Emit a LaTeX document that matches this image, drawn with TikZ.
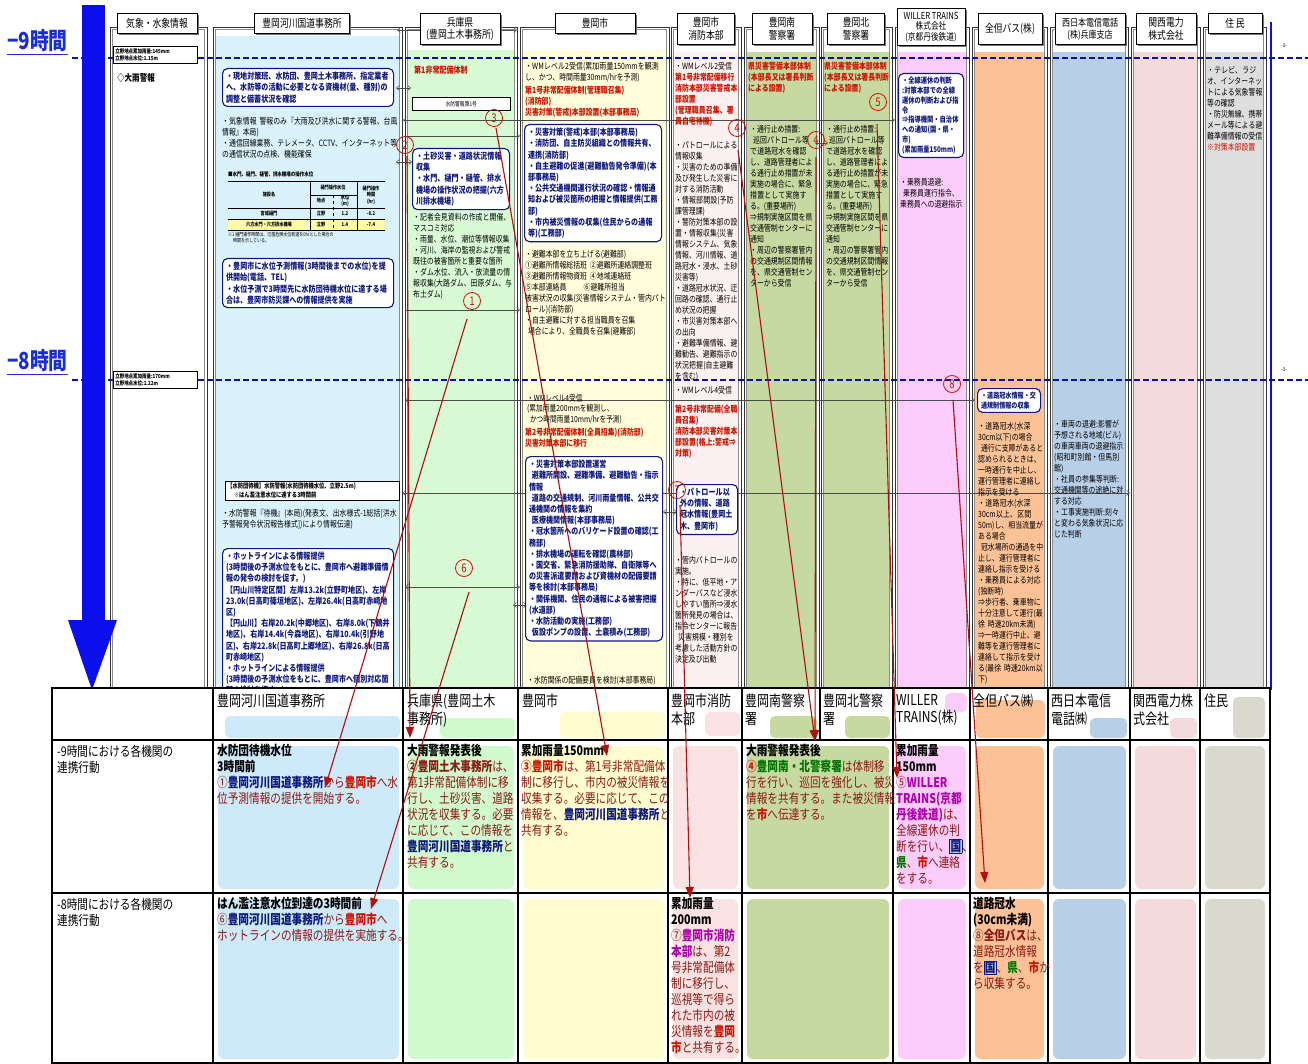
\documentclass[tikz,border=0pt]{standalone}
\usepackage{fontspec}
\setmainfont{Noto Sans CJK JP}[FakeStretch=0.8]
\XeTeXlinebreaklocale "ja"
\XeTeXlinebreakskip=0pt plus 0.4pt
\usetikzlibrary{arrows.meta,shadows}
\definecolor{tblue}{RGB}{15,25,125}
\definecolor{tred}{RGB}{140,25,20}
\definecolor{bred}{RGB}{205,20,0}
\definecolor{tmag}{RGB}{175,0,175}
\definecolor{tgreen}{RGB}{0,115,0}
\definecolor{arw}{RGB}{175,15,15}
\definecolor{bigblue}{RGB}{10,15,235}
\definecolor{labblue}{RGB}{25,45,215}
\definecolor{cblue}{RGB}{205,233,250}
\definecolor{cgreen}{RGB}{208,250,205}
\definecolor{cyellow}{RGB}{255,252,208}
\definecolor{cpink}{RGB}{250,226,226}
\definecolor{colive}{RGB}{198,217,160}
\definecolor{cmag}{RGB}{252,204,252}
\definecolor{corange}{RGB}{252,194,150}
\definecolor{csteel}{RGB}{184,207,232}
\definecolor{crose}{RGB}{244,218,218}
\definecolor{cgrey}{RGB}{217,217,206}
\definecolor{ublue}{RGB}{218,242,252}
\definecolor{ugreen}{RGB}{216,250,212}
\definecolor{uyellow}{RGB}{255,253,218}
\definecolor{upink}{RGB}{253,240,240}
\definecolor{ugrey}{RGB}{222,222,222}
\newcommand\jB[1]{\textcolor{tblue}{\textbf{#1}}}
\newcommand\jR[1]{\textcolor{bred}{\textbf{#1}}}
\newcommand\jG[1]{\textcolor{tgreen}{\textbf{#1}}}
\newcommand\jM[1]{\textcolor{tmag}{\textbf{#1}}}
\newcommand\jK[1]{\textcolor{black}{\textbf{#1}}}
\newcommand\jKuni{{\setlength{\fboxsep}{0.5pt}\setlength{\fboxrule}{0.6pt}\fcolorbox{tblue}{csteel}{\textcolor{tblue}{\textbf{国}}}}}
\begin{document}
\begin{tikzpicture}[x=1pt,y=-1pt,
  hdrbox/.style={draw=black,line width=0.7pt,fill=white,align=center,inner sep=2pt,font=\fontsize{11}{12.5}\selectfont,drop shadow={shadow xshift=1.6pt,shadow yshift=-1.6pt,fill=black!55,opacity=1}},
  up/.style={anchor=north west,align=left,inner sep=0pt,text width=#1,font=\fontsize{8.6}{11}\selectfont},
  upr/.style={anchor=north west,align=left,inner sep=0pt,text width=#1,font=\fontsize{8.6}{11}\selectfont\bfseries,text=bred},
  bbox/.style={draw=tblue,line width=1.1pt,rounded corners=5pt,fill=white,anchor=north west,align=left,inner sep=3.5pt,text width=#1,font=\fontsize{8.8}{11.2}\selectfont\bfseries,text=tblue},
  kbox/.style={draw=black,line width=0.6pt,fill=white,anchor=north west,align=left,inner sep=2pt,text width=#1,font=\fontsize{5.6}{7.4}\selectfont\bfseries},
  circ/.style={circle,draw=bred,text=bred,line width=0.8pt,inner sep=0pt,minimum size=17pt,font=\fontsize{12}{12}\selectfont},
  redarr/.style={draw=arw,line width=1.1pt,-{Triangle[length=11pt,width=8pt]}},
  harr/.style={draw=black!70,line width=0.5pt,{Straight Barb[length=3pt,width=5pt]}-{Straight Barb[length=3pt,width=5pt]}},
  harrR/.style={draw=black!70,line width=0.5pt,-{Straight Barb[length=3pt,width=5pt]}},
  cell/.style={anchor=north west,align=left,inner sep=0pt,font=\fontsize{13.3}{16}\selectfont,text=tred},
  chead/.style={anchor=north west,align=left,inner sep=0pt,font=\fontsize{15}{17.5}\selectfont},
  tinyt/.style={font=\fontsize{5.2}{6.5}\selectfont\bfseries,inner sep=0.5pt,align=center},
]
\useasboundingbox (0,0) rectangle (1308,1064);
\fill[white] (0,0) rectangle (1308,1064);

% ---------- upper columns ----------
\foreach \a/\b/\c/\t in {110/207/white/52, 213/402/ublue/36, 405/517/ugreen/50, 520/669/uyellow/50, 671/741/upink/52, 744/819/colive/52, 821/892/colive/52, 895/969/cmag/52, 972/1047/corange/52, 1050/1128/csteel/52, 1131/1200/crose/52, 1203/1266/ugrey/52}{
  \fill[\c] (\a+3,\t) rectangle (\b-3,688);
  \draw[black!80,line width=0.6pt] (\a,27) rectangle (\b,690);
  \draw[black!45,line width=0.4pt] (\a+2.5,29.5) rectangle (\b-2.5,690);
}
\draw[bigblue,line width=1.6pt] (1271,22) -- (1271,690);

% dashed time lines
\draw[tblue!70!blue,line width=1.4pt,dash pattern=on 6pt off 3pt] (72,58) -- (1308,58);
\draw[tblue!70!blue,line width=1.4pt,dash pattern=on 6pt off 3pt] (72,380) -- (1308,380);

% big time arrow
\fill[bigblue] (82,5) rectangle (105,622);
\fill[bigblue] (68,620) -- (117,620) -- (92,690) -- cycle;
\node[anchor=west,inner sep=0pt,font=\fontsize{23.5}{23.5}\selectfont\bfseries,text=labblue] (m9) at (7,41) {−9時間};
\draw[labblue,line width=1.3pt] ([yshift=-2pt]m9.south west) -- ([yshift=-2pt]m9.south east);
\node[anchor=west,inner sep=0pt,font=\fontsize{23.5}{23.5}\selectfont\bfseries,text=labblue] (m8) at (7,361) {−8時間};
\draw[labblue,line width=1.3pt] ([yshift=-2pt]m8.south west) -- ([yshift=-2pt]m8.south east);
\node[tinyt,text=black!60] (pg1) at (1284,46) {-3-};
\node[tinyt,text=black!60] (pg2) at (1284,370) {-3-};

% thin horizontal arrows
\draw[harr] (397,30) -- (517,30);
\draw[harr] (396,88) -- (411,88);
\draw[harr] (403,120) -- (895,120);
\draw[harrR] (405,136) -- (520,136);
\draw[harr] (815,143) -- (828,143);
\draw[harr] (396,162) -- (412,162);
\draw[harrR] (405,310) -- (520,310);
\draw[harr] (405,400) -- (975,400);
\draw[harr] (402,493) -- (1130,493);
\draw[harr] (663,512) -- (677,512);
\draw[harr] (405,587) -- (520,587);
\draw[harr] (513,605) -- (527,605);

% header boxes
\node[hdrbox,minimum width=80pt,minimum height=20pt] (H1) at (157,23) {気象・水象情報};
\node[hdrbox,minimum width=95pt,minimum height=20pt] (H2) at (302,23) {豊岡河川国道事務所};
\node[hdrbox,minimum width=80pt,minimum height=31pt] (H3) at (460,29) {兵庫県\\(豊岡土木事務所)};
\node[hdrbox,minimum width=80pt,minimum height=20pt] (H4) at (595,23) {豊岡市};
\node[hdrbox,minimum width=57pt,minimum height=31pt] (H5) at (706,29) {豊岡市\\消防本部};
\node[hdrbox,minimum width=60pt,minimum height=31pt] (H6) at (782,29) {豊岡南\\警察署};
\node[hdrbox,minimum width=57pt,minimum height=31pt] (H7) at (856,29) {豊岡北\\警察署};
\node[hdrbox,minimum width=68pt,minimum height=37pt,font=\fontsize{9.6}{10.6}\selectfont] (H8) at (931,27) {WILLER TRAINS\\株式会社\\(京都丹後鉄道)};
\node[hdrbox,minimum width=64pt,minimum height=31pt] (H9) at (1010,29) {全但バス(株)};
\node[hdrbox,minimum width=70pt,minimum height=31pt,font=\fontsize{10}{12}\selectfont] (H10) at (1090,29) {西日本電信電話\\(株)兵庫支店};
\node[hdrbox,minimum width=60pt,minimum height=31pt] (H11) at (1166,29) {関西電力\\株式会社};
\node[hdrbox,minimum width=54pt,minimum height=20pt] (H12) at (1235,23) {住\,民};

% ---------- column 1 ----------
\node[kbox=80] (w1) at (113,46) {立野地点累加雨量:145mm\\立野地点水位:1.15m};
\node[anchor=north west,inner sep=0pt,font=\fontsize{9.4}{10}\selectfont\bfseries] (w2) at (117,73) {◇大雨警報};
\node[kbox=80] (w3) at (113,371) {立野地点累加雨量:170mm\\立野地点水位:1.22m};

% ---------- column 2 ----------
\node[bbox=164] (k1) at (222,68) {・現地対策班、水防団、豊岡土木事務所、指定業者へ、水防等の活動に必要となる資機材(量、種別)の調整と備蓄状況を確認};
\node[up=176] (k2) at (222,117) {・気象情報 警報のみ『大雨及び洪水に関する警報、台風情報』本局)\\・通信回線業務、テレメータ、CCTV、インターネット等の通信状況の点検、機能確保};
\node[anchor=north west,inner sep=0pt,font=\fontsize{5.6}{7}\selectfont\bfseries] (t0) at (228,171) {■水門、樋門、樋管、排水機場の操作水位};
\fill[yellow!35] (228,219) rectangle (385,230);
\draw[line width=0.6pt] (228,181) -- (385,181);
\draw[line width=0.9pt] (228,208) -- (385,208);
\draw[line width=0.4pt] (228,219) -- (385,219);
\draw[line width=0.9pt] (228,230) -- (385,230);
\draw[line width=0.5pt] (310,181) -- (310,230) (357,181) -- (357,230) (310,195) -- (357,195);
\draw[line width=0.4pt,dashed] (333,195) -- (333,230);
\node[tinyt] (t1) at (269,195) {施設名};
\node[tinyt] (t2) at (333,188) {樋門操作水位};
\node[tinyt] (t3) at (321,201) {地点};
\node[tinyt] (t4) at (345,201) {水位\\(m)};
\node[tinyt] (t5) at (371,195) {樋門操作\\時間\\(hr)};
\node[tinyt] (t6) at (269,213.5) {宮城樋門};
\node[tinyt] (t7) at (321,213.5) {立野};
\node[tinyt] (t8) at (345,213.5) {1.2};
\node[tinyt] (t9) at (371,213.5) {-8.2};
\node[tinyt] (t10) at (269,224.5) {六方水門・六方排水機場};
\node[tinyt] (t11) at (321,224.5) {立野};
\node[tinyt] (t12) at (345,224.5) {1.4};
\node[tinyt] (t13) at (371,224.5) {-7.4};
\node[anchor=north west,inner sep=0pt,align=left,font=\fontsize{5}{6.5}\selectfont] (t14) at (228,232) {※1 樋門操作時間は、氾濫危険水位到達を0hrとした場合の\\\quad 時間を示している。};
\node[bbox=164] (k3) at (222,258) {・豊岡市に水位予測情報(3時間後までの水位)を提供開始(電話、TEL)\\・水位予測で3時間先に水防団待機水位に達する場合は、豊岡市防災課への情報提供を実施};
\node[kbox=170,font=\fontsize{6.6}{8.4}\selectfont\bfseries] (k4) at (225,481) {【水防団待機】水防警報(水防団待機水位、立野2.5m)\\\quad ※はん濫注意水位に達する3時間前};
\node[up=176] (k5) at (222,509) {・水防警報『待機』(本局)(発表文、出水様式-1総括[洪水予警報発令状況報告様式])により情報伝達)};
\node[bbox=164] (k6) at (222,548) {・ホットラインによる情報提供\\(3時間後の予測水位をもとに、豊岡市へ避難準備情報の発令の検討を促す。)\\【円山川特定区間】左岸13.2k(立野町地区)、左岸23.0k(日高町篠垣地区)、左岸26.4k(日高町赤崎地区)\\【円山川】右岸20.2k(中郷地区)、右岸8.0k(下鶴井地区)、右岸14.4k(今森地区)、右岸10.4k(引野地区)、右岸22.8k(日高町上郷地区)、右岸26.8k(日高町赤崎地区)\\・ホットラインによる情報提供\\(3時間後の予測水位をもとに、豊岡市へ個別対応箇所の検討を促す。)};

% ---------- column 3 ----------
\node[upr=100,font=\fontsize{8.8}{11}\selectfont\bfseries] (h1) at (414,66) {第1非常配備体制};
\node[draw,line width=0.6pt,fill=white,anchor=north west,minimum width=98pt,minimum height=13pt,inner sep=1pt,font=\fontsize{6}{6}\selectfont] (h2) at (412,97) {水防警報第1号};
\node[bbox=90] (h3) at (412,148) {・土砂災害・道路状況情報収集\\・水門、樋門・樋管、排水機場の操作状況の把握(六方川排水機場)};
\node[up=100] (h4) at (413,213) {・記者会見資料の作成と開催、マスコミ対応\\・雨量、水位、潮位等情報収集\\・河川、海岸の監視および警戒既往の被害箇所と重要な箇所\\・ダム水位、流入・放流量の情報収集(大路ダム、田原ダム、与布土ダム)};

% ---------- column 4 ----------
\node[up=140] (s1) at (525,62) {・WMレベル2受信(累加雨量150mmを観測し、かつ、時間雨量30mm/hrを予測)};
\node[upr=140] (s2) at (525,86) {第1号非常配備体制(管理職召集)\\(消防部)\\災害対策(警戒)本部設置(本部事務局)};
\node[bbox=130] (s3) at (524,124) {・災害対策(警戒)本部(本部事務局)\\・消防団、自主防災組織との情報共有、連携(消防部)\\・自主避難の促進(避難勧告発令準備)(本部事務局)\\・公共交通機関運行状況の確認・情報通知および被災箇所の把握と情報提供(工務部)\\・市内被災情報の収集(住民からの通報等)(工務部)};
\node[up=142] (s4) at (525,250) {・避難本部を立ち上げる(避難部)\\①避難所情報総括班\ ②避難所連絡調整班\\③避難所情報物資班\ ④地域連絡班\\⑤本部連絡員\qquad ⑥避難所担当\\被害状況の収集(災害情報システム・管内パトロール)(消防部)\\・自主避難に対する担当職員を召集\\\ 場合により、全職員を召集(避難部)};
\node[up=140,font=\fontsize{8.4}{10.5}\selectfont] (s5) at (527,394) {・WMレベル4受信\\(累加雨量200mmを観測し、\\\ かつ時間雨量10mm/hrを予測)};
\node[upr=140] (s6) at (525,428) {第2号非常配備体制(全員招集)(消防部)\\災害対策本部に移行};
\node[bbox=130] (s7) at (525,456) {・災害対策本部設置運営\\\ 避難所開設、避難準備、避難勧告・指示情報\\\ 道路の交通規制、河川雨量情報、公共交通機関の情報を集約\\\ 医療機関情報(本部事務局)\\・冠水箇所へのバリケード設置の確認(工務部)\\・排水機場の運転を確認(農林部)\\・国交省、緊急消防援助隊、自衛隊等への災害派遣要請および資機材の配備要請等を検討(本部事務局)\\・関係機関、住民の通報による被害把握(水道部)\\・水防活動の実施(工務部)\\\ 仮設ポンプの設置、土嚢積み(工務部)};
\node[up=140] (s8) at (527,676) {・水防関係の配備要員を検討(本部事務局)};

% ---------- column 5 ----------
\node[up=64] (f1) at (675,62) {・WMレベル2受信};
\node[upr=64] (f2) at (675,73) {第1号非常配備移行\\消防本部災害警戒本部設置\\(管理職員召集、署員自宅待機)};
\node[up=64] (f3) at (675,141) {・パトロールによる情報収集\\・災害のための準備及び発生した災害に対する消防活動\\・情報部開設(予防課管理課)\\・警防対策本部の設置・情報収集(災害情報システム、気象情報、河川情報、道路冠水・浸水、土砂災害等)\\・道路冠水状況、迂回路の確認、通行止め状況の把握\\・市災害対策本部への出向\\・避難準備情報、避難勧告、避難指示の状況把握(自主避難を含む)};
\node[up=64] (f4) at (675,386) {・WMレベル4受信};
\node[upr=64] (f5) at (675,405) {第2号非常配備(全職員召集)\\消防本部災害対策本部設置(格上:警戒⇒対策)};
\node[bbox=54] (f6) at (676,484) {・パトロール以外の情報、道路冠水情報(豊岡土木、豊岡市)};
\node[up=64] (f7) at (675,556) {・管内パトロールの実施。\\・特に、低平地・アンダーパスなど浸水しやすい箇所⇒浸水箇所発見の場合は、指令センターに報告\\\ 災害規模・種別を考慮した活動方針の決定及び出動};

% ---------- columns 6,7 ----------
\node[upr=68] (p1) at (748,62) {県災害警備本部体制(本部長又は署長判断による設置)};
\node[up=64] (p2) at (750,125) {・通行止め措置:\\\ 巡回パトロール等で道路冠水を確認し、道路管理者による通行止め措置が未実施の場合に、緊急措置として実施する。(重要場所)\\⇒規制実施区間を県交通管制センターに通知\\・周辺の警察署管内の交通規制区間情報を、県交通管制センターから受信};
\node[upr=66] (q1) at (824,62) {県災害警備本部体制(本部長又は署長判断による設置)};
\node[up=62] (q2) at (826,125) {・通行止め措置:\\\ 巡回パトロール等で道路冠水を確認し、道路管理者による通行止め措置が未実施の場合に、緊急措置として実施する。(重要場所)\\⇒規制実施区間を県交通管制センターに通知\\・周辺の警察署管内の交通規制区間情報を、県交通管制センターから受信};

% ---------- column 8 ----------
\node[bbox=58,font=\fontsize{7.8}{9.8}\selectfont\bfseries] (r1) at (898,73) {・全線運休の判断\\:対策本部での全線運休の判断および指令\\⇒指導機関・自治体への通知(国・県・市)\\(累加雨量150mm)};
\node[up=64] (r2) at (900,178) {・乗務員退避:\\\ 乗務員運行指令、乗務員への退避指示};

% ---------- column 9 ----------
\node[bbox=56,font=\fontsize{7.6}{9.6}\selectfont\bfseries] (b1) at (977,388) {・道路冠水情報・交通規制情報の収集};
\node[up=66] (b2) at (978,422) {・道路冠水(水深30cm以下)の場合\\\ 通行に支障があると認められるときは、一時通行を中止し、運行管理者に連絡し指示を受ける\\・道路冠水(水深30cm以上、区間50m)し、相当流量がある場合\\\ 冠水場所の通過を中止し、運行管理者に連絡し指示を受ける\\・乗務員による対応(独断時)\\⇒歩行者、乗車物に十分注意して運行(最徐 時速20km未満)\\⇒一時運行中止、避難等を運行管理者に連絡して指示を受ける(最徐 時速20km以下)};

% ---------- column 10, 12 ----------
\node[up=70] (n1) at (1054,420) {・車両の退避:影響が予想される地域(ビル)の車両車両の退避指示(昭和町別館・但馬別館)\\・社員の参集等判断:交通機関等の途絶に対する対応\\・工事実施判断:刻々と変わる気象状況に応じた判断};
\node[up=56] (z1) at (1207,66) {・テレビ、ラジオ、インターネットによる気象警報等の確認\\・防災無線、携帯メール等による避難準備情報の受信\\\textcolor{bred}{※対策本部設置}};

% ---------- lower table ----------
\fill[white] (52,688) rectangle (1270,1064);
\foreach \a/\b/\c/\u/\v in {225/400/cblue/716/738, 440/515/cgreen/718/738, 560/665/cyellow/712/738, 705/740/cpink/712/736, 770/817/colive/716/738, 845/890/colive/716/738, 945/967/cmag/693/712, 976/1045/corange/700/738, 1090/1127/csteel/718/738, 1170/1197/crose/718/738, 1233/1265/cgrey/697/738}{
  \fill[\c,rounded corners=5pt] (\a,\u) rectangle (\b,\v);
}
\foreach \a/\b/\c in {218/399/cblue, 408/514/cgreen, 523/664/cyellow, 673/738/cpink, 747/889/colive, 898/966/cmag, 975/1044/corange, 1053/1126/csteel, 1135/1196/crose, 1205/1265/cgrey}{
  \fill[\c,rounded corners=6pt] (\a,746) rectangle (\b,889);
  \fill[\c,rounded corners=6pt] (\a,899) rectangle (\b,1059);
}
\draw[line width=2pt] (52,688) rectangle (1270,1063);
\draw[line width=2pt] (52,740) -- (1270,740) (52,893) -- (1270,893);
\foreach \x in {213,403,518,668,742,893,970,1048,1130,1200}{\draw[line width=2pt] (\x,688) -- (\x,1063);}
\draw[line width=2pt] (820,688) -- (820,740);

% header row texts
\node[chead] (L1) at (217,694) {豊岡河川国道事務所};
\node[chead] (L2) at (407,694) {兵庫県(豊岡土木\\事務所)};
\node[chead] (L3) at (522,694) {豊岡市};
\node[chead] (L4) at (671,694) {豊岡市消防\\本部};
\node[chead] (L5) at (745,694) {豊岡南警察\\署};
\node[chead] (L6) at (823,694) {豊岡北警察\\署};
\node[chead] (L7) at (896,694) {WILLER\\TRAINS(株)};
\node[chead] (L8) at (973,694) {全但バス㈱};
\node[chead] (L9) at (1051,694) {西日本電信\\電話㈱};
\node[chead] (L10) at (1133,694) {関西電力株\\式会社};
\node[chead] (L11) at (1204,694) {住民};

% row labels
\node[cell,text=black] (R1) at (57,745) {-9時間における各機関の\\連携行動};
\node[cell,text=black] (R2) at (57,898) {-8時間における各機関の\\連携行動};

% row 1
\node[cell] (A1) at (217,744) {\jK{水防団待機水位}\\\jK{3時間前}\\①\jB{豊岡河川国道事務所}から\jR{豊岡市}へ水\\位予測情報の提供を開始する。};
\node[cell] (A2) at (407,744) {\jK{大雨警報発表後}\\\textbf{②豊岡土木事務所}は、\\第1非常配備体制に移\\行し、土砂災害、道路\\状況を収集する。必要\\に応じて、この情報を\\\jB{豊岡河川国道事務所}と\\共有する。};
\node[cell] (A3) at (521,744) {\jK{累加雨量150mm}\\\jR{③豊岡市}は、第1号非常配備体\\制に移行し、市内の被災情報を\\収集する。必要に応じて、この\\情報を、\jB{豊岡河川国道事務所}と\\共有する。};
\node[cell] (A4) at (746,744) {\jK{大雨警報発表後}\\\jR{④}\jG{豊岡南・北警察署}は体制移\\行を行い、巡回を強化し、被災\\情報を共有する。また被災情報\\を\jR{市}へ伝達する。};
\node[cell] (A5) at (896,744) {\jK{累加雨量}\\\jK{150mm}\\⑤\jM{WILLER}\\\jM{TRAINS(京都}\\\jM{丹後鉄道)}は、\\全線運休の判\\断を行い、\jKuni、\\\jG{県}、\jR{市}へ連絡\\をする。};

% row 2
\node[cell] (B1) at (217,897) {\jK{はん濫注意水位到達の3時間前}\\⑥\jB{豊岡河川国道事務所}から\jR{豊岡市}へ\\ホットラインの情報の提供を実施する。};
\node[cell] (B2) at (671,897) {\jK{累加雨量}\\\jK{200mm}\\⑦\jM{豊岡市消防}\\\jM{本部}は、第2\\号非常配備体\\制に移行し、\\巡視等で得ら\\れた市内の被\\災情報を\jR{豊岡}\\\jR{市}と共有する。};
\node[cell] (B3) at (973,897) {\jK{道路冠水}\\\jK{(30cm未満)}\\⑧\textbf{全但バス}は、\\道路冠水情報\\を\jKuni、\jG{県}、\jR{市}か\\ら収集する。};

% ---------- numbered circles and red arrows ----------
\node[circ] (c1) at (472,301) {1};
\node[circ] (c2) at (405,145) {2};
\node[circ] (c3) at (494,118) {3};
\node[circ] (c4a) at (737,128) {4};
\node[circ] (c4b) at (816,140) {4};
\node[circ] (c5) at (878,102) {5};
\node[circ] (c6) at (464,568) {6};
\node[circ] (c7) at (677,490) {7};
\node[circ] (c8) at (952,384) {8};
\coordinate (a1s) at (467,319); \coordinate (a1e) at (325,788);
\coordinate (a2s) at (407,156); \coordinate (a2e) at (410,738);
\coordinate (a3s) at (496,128); \coordinate (a3e) at (607,756);
\coordinate (a4as) at (738,150); \coordinate (a4bs) at (816,157); \coordinate (a4e) at (815,741);
\coordinate (a5s) at (877,124); \coordinate (a5e) at (897,778);
\coordinate (a6s) at (469,592); \coordinate (a6e) at (371,909);
\coordinate (a7s) at (680,505); \coordinate (a7e) at (690,898);
\coordinate (a8s) at (953,400); \coordinate (a8e) at (985,883);
\draw[redarr] (a1s) -- (a1e);
\draw[redarr] (a2s) -- (a2e);
\draw[redarr] (a3s) -- (a3e);
\draw[redarr] (a4as) -- (a4e);
\draw[redarr] (a4bs) -- (a4e);
\draw[redarr] (a5s) -- (a5e);
\draw[redarr] (a6s) -- (a6e);
\draw[redarr] (a7s) -- (a7e);
\draw[redarr] (a8s) -- (a8e);
\end{tikzpicture}
\end{document}
